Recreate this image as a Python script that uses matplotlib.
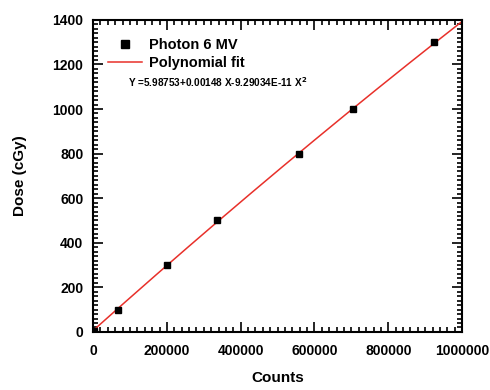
import numpy as np
import matplotlib
matplotlib.use("Agg")
import matplotlib.pyplot as plt
from matplotlib.ticker import MultipleLocator

plt.rcParams['font.family'] = ['Liberation Sans', 'DejaVu Sans']
plt.rcParams['font.weight'] = 'bold'

# measured points
counts = [2000, 67000, 200000, 337000, 558000, 705000, 925000]
dose = [5, 100, 300, 500, 800, 1000, 1300]

# fit coefficients
a0 = 5.98753
a1 = 0.00148
a2 = -9.29034e-11

fig = plt.figure(figsize=(4.9, 3.9), dpi=100)
ax = fig.add_axes([0.19, 0.149, 0.753, 0.80])

xf = np.linspace(0, 1000000, 200)
yf = a0 + a1 * xf + a2 * xf ** 2
ax.plot(counts, dose, 's', color='black', markersize=4.2, label='Photon 6 MV', zorder=3)
ax.plot(xf, yf, '-', color='#e8302a', linewidth=1.1, label='Polynomial fit')

ax.set_xlim(0, 1000000)
ax.set_ylim(0, 1400)
ax.ticklabel_format(style='plain', useOffset=False)
ax.xaxis.set_major_locator(MultipleLocator(200000))
ax.xaxis.set_minor_locator(MultipleLocator(20000))
ax.yaxis.set_major_locator(MultipleLocator(200))
ax.yaxis.set_minor_locator(MultipleLocator(20))
ax.tick_params(which='both', direction='in', top=True, right=True, width=1.2)
ax.tick_params(which='major', length=7, labelsize=10)
ax.tick_params(axis='x', which='major', pad=9)
ax.tick_params(axis='y', which='major', pad=7)
ax.tick_params(which='minor', length=3.5)
for s in ax.spines.values():
    s.set_linewidth(1.5)

ax.set_xlabel('Counts', fontsize=11, fontweight='bold', labelpad=9)
ax.set_ylabel('Dose (cGy)', fontsize=11, fontweight='bold', labelpad=18)

ax.legend(loc='upper left', bbox_to_anchor=(0.005, 0.985), frameon=False,
          prop={'size': 10.5, 'weight': 'bold'}, handlelength=2.3, handletextpad=0.5,
          labelspacing=0.3, markerscale=1.5)
ax.text(0.095, 0.80, r'Y =5.98753+0.00148 X-9.29034E-11 X$^\mathbf{2}$',
        transform=ax.transAxes, fontsize=7.2, fontweight='bold', va='center')

fig.savefig('out.png', dpi=100)
